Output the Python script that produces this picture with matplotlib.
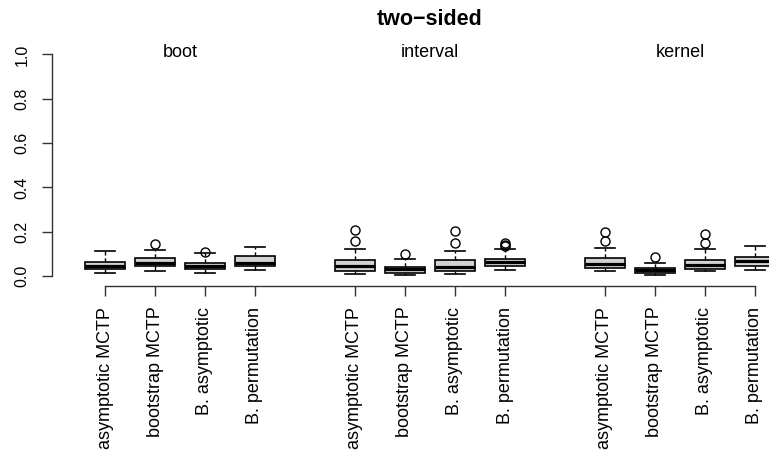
import matplotlib
matplotlib.use("Agg")
import matplotlib.pyplot as plt

# Rejection rates (three groups of four methods)
groups = ["boot", "interval", "kernel"]
methods = ["asymptotic MCTP", "bootstrap MCTP", "B. asymptotic", "B. permutation"]

whislo = [0.015, 0.021, 0.014, 0.026,
          0.009, 0.005, 0.009, 0.027,
          0.024, 0.003, 0.021, 0.028]
q1 = [0.030, 0.044, 0.030, 0.045,
      0.023, 0.015, 0.021, 0.045,
      0.035, 0.012, 0.033, 0.044]
med = [0.046, 0.060, 0.045, 0.060,
       0.047, 0.030, 0.042, 0.062,
       0.056, 0.026, 0.048, 0.066]
q3 = [0.065, 0.081, 0.059, 0.089,
      0.074, 0.042, 0.071, 0.078,
      0.080, 0.035, 0.074, 0.087]
whishi = [0.111, 0.119, 0.104, 0.130,
          0.122, 0.077, 0.114, 0.122,
          0.128, 0.060, 0.123, 0.134]
outliers = [[], [0.144], [0.108], [],
            [0.208, 0.157], [0.101], [0.202, 0.147], [0.147, 0.140, 0.136],
            [0.197, 0.160], [0.087], [0.188, 0.149], []]

positions = [1, 2, 3, 4, 6, 7, 8, 9, 11, 12, 13, 14]
labels = methods * 3

stats = []
for i in range(len(med)):
    stats.append(dict(med=med[i], q1=q1[i], q3=q3[i],
                      whislo=whislo[i], whishi=whishi[i], fliers=outliers[i]))

plt.rcParams['font.family'] = ['Liberation Sans', 'DejaVu Sans']

W, H = 769, 454
fig = plt.figure(figsize=(W / 100, H / 100), dpi=100)
# plot region in pixels (R default margins; right side runs off the picture)
left, right, top, bottom = 52, 808, 45.6, 284.9
ax = fig.add_axes([left / W, 1 - bottom / H, (right - left) / W, (bottom - top) / H])

ax.bxp(stats, positions=positions, widths=0.8, patch_artist=True,
       boxprops=dict(facecolor="#d3d3d3", edgecolor="black", linewidth=1.2),
       medianprops=dict(color="black", linewidth=2.3, solid_capstyle="butt"),
       whiskerprops=dict(color="black", linewidth=1.0, linestyle=(0, (3, 2))),
       capprops=dict(color="black", linewidth=1.2),
       flierprops=dict(marker="o", markerfacecolor="none", markeredgecolor="black",
                       markersize=6.5, markeredgewidth=1.0),
       capwidths=0.4)

ax.set_xlim(-0.06, 15.06)
ax.set_ylim(-0.04, 1.04)

for s in ["top", "right"]:
    ax.spines[s].set_visible(False)
ax.spines["left"].set_bounds(0, 1)
ax.spines["bottom"].set_bounds(1, 14)
ax.spines["bottom"].set_position(("outward", 1))
for s in ["left", "bottom"]:
    ax.spines[s].set_linewidth(1.0)
    ax.spines[s].set_color("#333333")

ax.set_yticks([0, 0.2, 0.4, 0.6, 0.8, 1.0])
ax.set_yticklabels(["0.0", "0.2", "0.4", "0.6", "0.8", "1.0"], rotation=90,
                   va="center", fontsize=11.5)
ax.set_xticks(positions)
ax.set_xticklabels(labels, rotation=90, fontsize=13)
ax.tick_params(axis="both", length=7.2, width=1.0, color="#333333")
ax.tick_params(axis="x", pad=7.5)
ax.tick_params(axis="y", pad=9)

for k, g in enumerate(groups):
    ax.text(2.5 + 5 * k, 1.01, g, ha="center", va="center", fontsize=13)

ax.text(0.5, 1.086, "two\u2212sided", transform=ax.transAxes, ha="center",
        va="baseline", fontsize=15.5, fontweight="bold")

fig.savefig("out.png", dpi=100)
